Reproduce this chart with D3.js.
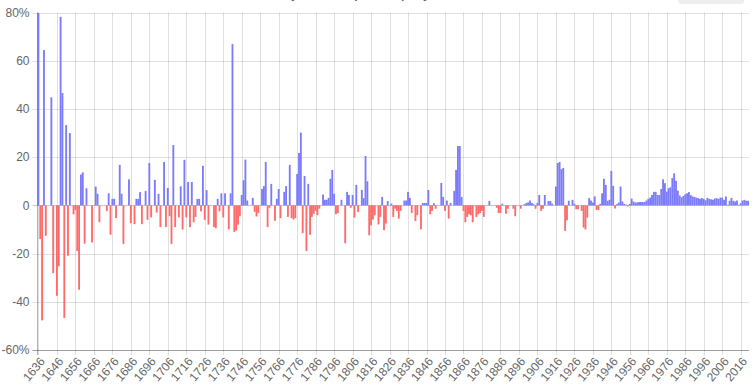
<!DOCTYPE html>
<html lang="en">
  <head>
    <meta charset="UTF-8" />
    <title>Inflation per year</title>
    <style>
      body {
        margin: 0;
        background: #fff;
      }
      svg text {
        font-family: "Liberation Sans", Arial, sans-serif;
        fill: #666;
      }
    </style>
  </head>
  <body>
    <div id="chart"></div>

    <script src="https://cdn.jsdelivr.net/npm/d3@7/dist/d3.min.js"></script>

    <script>
      ///////////////////////////////////////////////////////////////////////////
      ///////////////////////////////// Data ////////////////////////////////////
      ///////////////////////////////////////////////////////////////////////////

      var firstYear = 1636,
        lastYear = 2020;

      //yearly change in %, one value per year
      var values1636 = [
        79.8, -14, -47.7, 64.4, -12.6, 0, 0, 44.8, -28.1, 0,
        -37.5, -25.3, 78.2, 46.6, -46.7, 33.3, -20.9, 30, 0, -3.7,
        -1.9, -18.9, -35, 12.8, 13.7, -15.9, 7.1, 0, 0, -15.4,
        0, 7.8, 4.8, -7, 0, 0, 0, -2.4, 5, -12.2,
        2.7, 2.7, -5.3, 0, 16.8, 4.8, -16, 0, 0, 10.8,
        -7.4, 0, -7.8, 2.7, 2.7, 5.5, -7.8, 0, 6, -6,
        17.6, -5, 0, 10.6, -3, 4.8, -9, 0, 18, -9,
        7.2, -4.5, -16, 25, -9, 0, -5, 7.9, -10, 18.9,
        -5, 9.7, -9, 9.7, -7, -4.8, 2.7, 2.7, -2.5, 16.4,
        -6, 6.3, -8, 0, 0, -9, -9.5, 2.7, -2.5, 5,
        -5, 5, 0, -10, 5, 66.9, -11, -10.5, -8, -4.5,
        4.3, 10.4, 19, 2, 0, 0, 3.1, -2.7, -4.6, -3.2
      ];
      var values1756 = [
        0, 6.8, 8, 18, -9, -1, 8.9, 0, -6.4, 2.7,
        6.8, -5.3, 0, 5.6, 8, -4.8, 16.8, -5.3, -5.9, -5.3,
        13, 21.7, 30.2, -11.5, 12.2, -18.9, 8.9, -12.2, -4.8, -3.5,
        -2.3, -4.1, -1.4, 0, 4.5, 2.3, 2.3, 3.1, 11, 14.7,
        4.8, -3.7, -3.2, 0, 2.3, 0, -15.7, 5.6, 4.3, -1,
        4.3, -5.1, 8.5, -2.8, 0, 6.4, 3, 20.5, 10, -12.4,
        -8.3, -5.9, -4.1, 0, -7.9, -4.8, 3.5, -10.3, -7.6, 1.8,
        0, 0.7, -4.8, -1.4, -2.3, -5.5, -2.3, 0, 2, 2,
        5.6, 3.1, -3.2, 0, -6.5, -4.1, 0, -10, 1, 1,
        1, 6.4, -3.7, -2.3, 0.9, -1.4, 0, 0, 9.3, 3.5,
        -2.3, 2, -5.5, 1, 0, 6, 14.7, 24.6, 24.6, 3.5,
        -2.3, -7, -4.8, -3.7, -4.1, -7, 0, -4.8, -3.7, -3.2,
        -2.3, -4.8, 0, 0, 1.8, 0, 0, 0, -1, -3.2,
        -3.2, 0.7
      ];
      var values1888 = [
        0, -3.5, -1.4, 0, 0, -1.4, -4.5, 0, 0, -1.4,
        0, 0.5, 1, 1.2, 2, 1, 0.5, -1.4, 1, 4.3,
        -2.3, -1.4, 4.3, 0, 1.8, 1.8, 0.7, 0, 7.8, 17.6,
        18, 15, 15.5, -10.6, -6.2, 1.9, 0, 2.3, 0.7, -1.6,
        -1.6, 0, -2.3, -9.2, -10, -5.1, 3, 2, 1.2, 3.7,
        -1.9, -1.9, 0.6, 5, 11, 8.5, 1.9, 2.3, 14.3, 8.1,
        -1.3, 0.5
      ];
      var values1950 = [
        1.2, 7.8, 1.6, 0.6, 0.3, -0.4, 0.6, 2.8, 1.6, 1.2,
        1.2, 1.4, 1.4, 1.4, 1.4, 2, 2.7, 3.2, 4.3, 5.6,
        5.6, 4.3, 4.3, 6.8, 10.8, 9.2, 5.7, 7.1, 7.5, 11.3,
        13.3, 10.2, 6.1, 4.1, 3.4, 3.9, 4.6, 5, 5.5, 4.2,
        3.7, 3.5, 3.2, 3, 2.7, 3, 2.7, 2.1, 3.1, 2.7,
        2.5, 2.3, 2.8, 3, 2.7, 3.2, 3.2, 2.3, 3.7, -0.3,
        1.9, 3.1, 1.9, 1.6, 2, 0.2, 0.9, 2, 2.3, 1.9,
        1.9
      ];

      var yTicks = [-60, -40, -20, 0, 20, 40, 60, 80];
      var tickEvery = 10;

      var values = values1636.concat(values1756, values1888, values1950);
      var years = d3.range(firstYear, lastYear + 1);
      var data = years.map(function(y, i) {
        return { year: y, value: values[i] || 0 };
      });

      ///////////////////////////////////////////////////////////////////////////
      //////////////////////////////// Set up ///////////////////////////////////
      ///////////////////////////////////////////////////////////////////////////

      var width = 756,
        height = 389;
      var plot = { left: 37.5, right: 749, top: 12.5, bottom: 350 };

      var svg = d3
        .select("#chart")
        .append("svg")
        .attr("width", width)
        .attr("height", height);

      var x = d3
        .scaleBand()
        .domain(years)
        .range([plot.left, plot.right])
        .padding(0);

      var y = d3
        .scaleLinear()
        .domain([-60, 80])
        .range([plot.bottom, plot.top]);

      //Title, mostly cut off at the top of the picture
      svg
        .append("text")
        .attr("x", 390)
        .attr("y", -2.5)
        .attr("text-anchor", "middle")
        .style("font-size", "12px")
        .style("font-weight", "bold")
        .text("Yearly inflation, percent per year, 1636 - 2020");

      //the grey box at the top right
      svg
        .append("rect")
        .attr("x", 678)
        .attr("y", -8)
        .attr("width", 66)
        .attr("height", 12)
        .attr("rx", 3)
        .style("fill", "#eeeeee");

      ///////////////////////////////////////////////////////////////////////////
      //////////////////////////////// Grid /////////////////////////////////////
      ///////////////////////////////////////////////////////////////////////////

      var xTickYears = years.filter(function(d) {
        return (d - firstYear) % tickEvery === 0;
      });
      function xc(d) {
        return x(d) + x.bandwidth() / 2;
      }

      //vertical grid lines plus small ticks below the axis
      svg
        .append("g")
        .selectAll("line")
        .data(xTickYears)
        .enter()
        .append("line")
        .attr("x1", function(d) {
          return Math.round(xc(d)) + 0.5;
        })
        .attr("x2", function(d) {
          return Math.round(xc(d)) + 0.5;
        })
        .attr("y1", plot.top)
        .attr("y2", plot.bottom + 5)
        .style("stroke", "rgba(0,0,0,0.12)")
        .style("stroke-width", 1);

      //horizontal grid lines
      svg
        .append("g")
        .selectAll("line")
        .data(yTicks)
        .enter()
        .append("line")
        .attr("x1", plot.left - 5)
        .attr("x2", plot.right)
        .attr("y1", function(d) {
          return Math.round(y(d)) + 0.5;
        })
        .attr("y2", function(d) {
          return Math.round(y(d)) + 0.5;
        })
        .style("stroke", function(d) {
          return d === 0 ? "rgba(0,0,0,0.22)" : "rgba(0,0,0,0.12)";
        })
        .style("stroke-width", 1);

      ///////////////////////////////////////////////////////////////////////////
      //////////////////////////////// Bars /////////////////////////////////////
      ///////////////////////////////////////////////////////////////////////////

      svg
        .append("g")
        .selectAll("rect")
        .data(data)
        .enter()
        .append("rect")
        .attr("x", function(d) {
          return x(d.year);
        })
        .attr("width", x.bandwidth())
        .attr("y", function(d) {
          return d.value >= 0 ? y(d.value) : y(0);
        })
        .attr("height", function(d) {
          return Math.abs(y(d.value) - y(0));
        })
        .style("fill", function(d) {
          return d.value >= 0 ? "#7b7bfb" : "#ff6a6a";
        });

      ///////////////////////////////////////////////////////////////////////////
      //////////////////////////////// Axes /////////////////////////////////////
      ///////////////////////////////////////////////////////////////////////////

      //left and bottom axis lines
      svg
        .append("line")
        .attr("x1", plot.left)
        .attr("x2", plot.left)
        .attr("y1", plot.top)
        .attr("y2", plot.bottom + 5)
        .style("stroke", "rgba(0,0,0,0.3)");
      svg
        .append("line")
        .attr("x1", plot.left - 5)
        .attr("x2", plot.right)
        .attr("y1", Math.round(y(-60)) + 0.5)
        .attr("y2", Math.round(y(-60)) + 0.5)
        .style("stroke", "rgba(0,0,0,0.3)");

      //y labels
      svg
        .append("g")
        .selectAll("text")
        .data(yTicks)
        .enter()
        .append("text")
        .attr("x", plot.left - 8)
        .attr("y", function(d) {
          return y(d);
        })
        .attr("dy", "0.35em")
        .attr("text-anchor", "end")
        .style("font-size", "12px")
        .text(function(d, i) {
          return i === 0 || i === yTicks.length - 1 ? d + "%" : d;
        });

      //x labels, rotated
      svg
        .append("g")
        .selectAll("text")
        .data(xTickYears)
        .enter()
        .append("text")
        .attr("transform", function(d) {
          return "translate(" + (xc(d) + 4) + "," + (plot.bottom + 9) + ") rotate(-50)";
        })
        .attr("text-anchor", "end")
        .attr("dy", "0.35em")
        .style("font-size", "12px")
        .text(function(d) {
          return d;
        });
    </script>
  </body>
</html>
